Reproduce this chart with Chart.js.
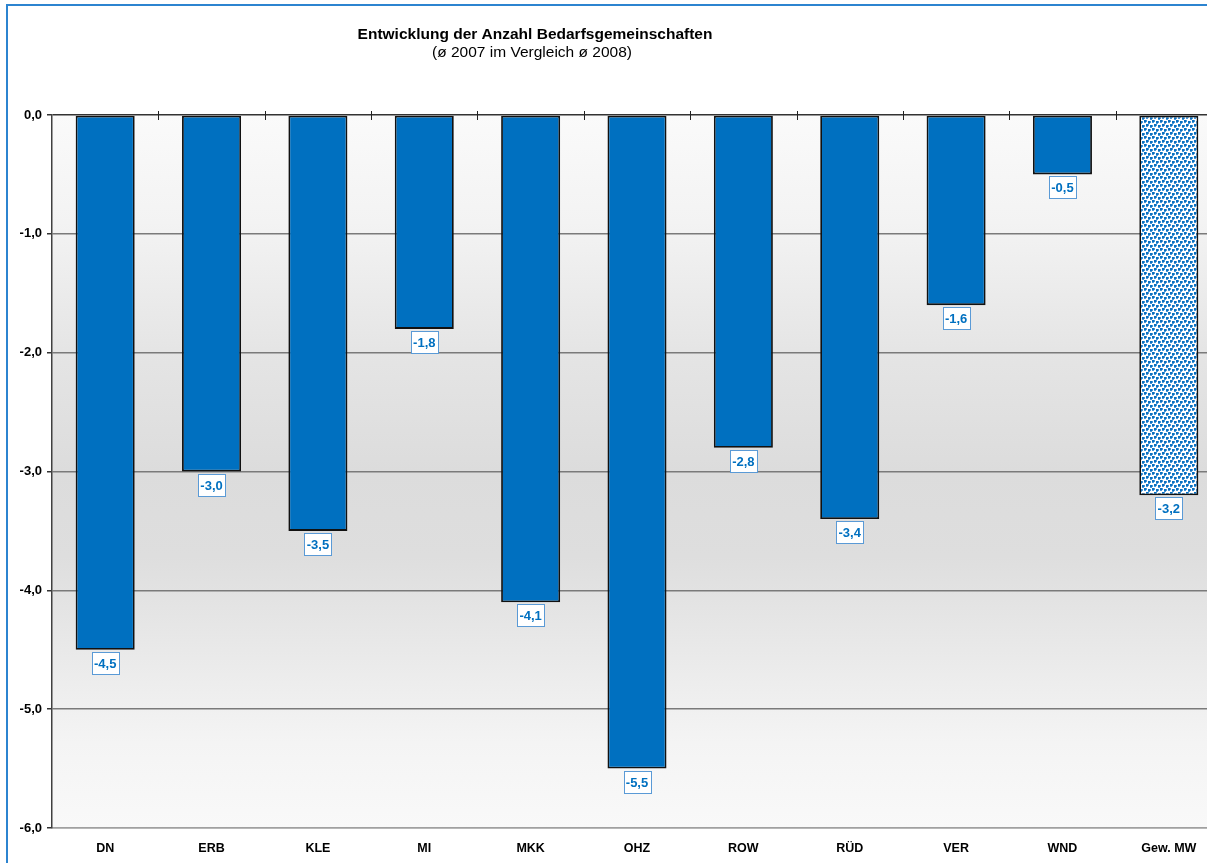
<!DOCTYPE html>
<html lang="de">
<head>
<meta charset="utf-8">
<title>Entwicklung der Anzahl Bedarfsgemeinschaften</title>
<script src="https://cdn.jsdelivr.net/npm/chart.js@4/dist/chart.umd.min.js"></script>
<style>
  html, body { margin: 0; padding: 0; background: #ffffff; overflow: hidden; }
  #wrap { position: relative; width: 1240px; height: 880px; }
  canvas { display: block; }
</style>
</head>
<body>
<div id="wrap"><canvas id="chart" width="1240" height="880"></canvas></div>
<script>
// Kreise / Regionen und Veränderung in Prozent (ø 2007 zu ø 2008)
const categories = ['DN', 'ERB', 'KLE', 'MI', 'MKK', 'OHZ', 'ROW', 'RÜD', 'VER', 'WND', 'Gew. MW'];
const changeValues = [-4.5, -3.0, -3.5, -1.8, -4.1, -5.5, -2.8, -3.4, -1.6, -0.5, -3.2];
const yTickValues = [0, -1, -2, -3, -4, -5, -6];

const titleText = 'Entwicklung der Anzahl Bedarfsgemeinschaften';
const subtitleText = '(ø 2007 im Vergleich ø 2008)';

const FONT = '"Liberation Sans", Arial, Helvetica, sans-serif';
const BAR_BLUE = '#0070c0';

// Punktraster für den gewichteten Mittelwert
function makeDotPattern(ctx) {
  const n = 8;
  const t = document.createElement('canvas');
  t.width = n; t.height = n;
  const c = t.getContext('2d');
  c.fillStyle = '#ffffff';
  c.fillRect(0, 0, n, n);
  const dots = [[0, 0], [4, 1], [2, 4], [6, 5]];
  c.fillStyle = '#4a98d8';
  dots.forEach(([x, y]) => {
    c.fillRect((x + 2) % n, y, 1, 2);
    c.fillRect(x, (y + 2) % n, 2, 1);
  });
  c.fillStyle = '#0a70c0';
  dots.forEach(([x, y]) => c.fillRect(x, y, 2, 2));
  return ctx.createPattern(t, 'repeat');
}

const canvas = document.getElementById('chart');
const ctx0 = canvas.getContext('2d');
const dotPattern = makeDotPattern(ctx0);
const barColors = categories.map((c, i) => i === categories.length - 1 ? dotPattern : BAR_BLUE);

const fmt = v => Number(v).toFixed(1).replace('.', ',');

const framePlugin = {
  id: 'frame',
  beforeDraw(chart) {
    const { ctx, chartArea: a } = chart;
    ctx.save();
    ctx.fillStyle = '#ffffff';
    ctx.fillRect(0, 0, chart.width, chart.height);
    // Verlauf der Zeichenfläche
    const g = ctx.createLinearGradient(0, a.top, 0, a.bottom);
    g.addColorStop(0.00, '#fafafa');
    g.addColorStop(0.15, '#f3f3f3');
    g.addColorStop(0.33, '#e5e5e5');
    g.addColorStop(0.50, '#dcdcdc');
    g.addColorStop(0.62, '#dedede');
    g.addColorStop(0.75, '#e9e9e9');
    g.addColorStop(0.88, '#f4f4f4');
    g.addColorStop(1.00, '#f9f9f9');
    ctx.fillStyle = g;
    ctx.fillRect(a.left, a.top, a.right - a.left, a.bottom - a.top);
    // Rahmen um das Diagramm
    ctx.strokeStyle = '#2c84d0';
    ctx.lineWidth = 2;
    ctx.strokeRect(7, 5, chart.width + 40, chart.height + 40);
    // Titel
    ctx.fillStyle = '#000000';
    ctx.textAlign = 'center';
    ctx.textBaseline = 'middle';
    ctx.font = 'bold 15.5px ' + FONT;
    ctx.fillText(titleText, 535, 35);
    ctx.font = '15.5px ' + FONT;
    ctx.fillText(subtitleText, 532, 53);
    ctx.restore();
  },
  afterDatasetsDraw(chart) {
    const { ctx } = chart;
    const xs = chart.scales.x;
    ctx.save();
    // Teilstriche der Kategorieachse an der Nulllinie
    const y0 = chart.scales.y.getPixelForValue(0);
    ctx.strokeStyle = '#222222';
    ctx.lineWidth = 1;
    for (let i = 1; i < categories.length; i++) {
      const x = Math.round((xs.getPixelForValue(i - 1) + xs.getPixelForValue(i)) / 2) + 0.5;
      ctx.beginPath();
      ctx.moveTo(x, y0 - 4);
      ctx.lineTo(x, y0 + 5);
      ctx.stroke();
    }
    // Datenbeschriftungen unter den Balken
    const meta = chart.getDatasetMeta(0);
    ctx.font = 'bold 13px ' + FONT;
    ctx.textAlign = 'center';
    ctx.textBaseline = 'middle';
    meta.data.forEach((bar, i) => {
      const label = fmt(changeValues[i]);
      const w = Math.ceil(ctx.measureText(label).width) + 4;
      const h = 22;
      const left = Math.round(bar.x - w / 2) + 0.5;
      const top = Math.round(bar.y + 2) + 0.5;
      ctx.fillStyle = '#ffffff';
      ctx.fillRect(left, top, w, h);
      ctx.strokeStyle = '#5a9ad6';
      ctx.lineWidth = 1;
      ctx.strokeRect(left, top, w, h);
      ctx.fillStyle = BAR_BLUE;
      ctx.fillText(label, bar.x, top + h / 2 + 0.5);
    });
    ctx.restore();
  }
};

new Chart(canvas, {
  type: 'bar',
  data: {
    labels: categories,
    datasets: [{
      data: changeValues,
      backgroundColor: barColors,
      borderColor: '#111111',
      borderWidth: 1.8,
      borderSkipped: false,
      categoryPercentage: 1.0,
      barPercentage: 0.555
    }]
  },
  options: {
    responsive: false,
    animation: false,
    devicePixelRatio: 1,
    layout: { padding: { left: 0, top: 115, right: 18, bottom: 0 } },
    plugins: {
      legend: { display: false },
      title: { display: false },
      tooltip: { enabled: false }
    },
    scales: {
      x: {
        position: 'bottom',
        grid: { display: false, drawTicks: false },
        border: { display: true, color: '#a0a0a0', width: 1.5 },
        ticks: {
          padding: 13,
          color: '#000000',
          font: { family: FONT, size: 12.5, weight: 'bold' },
          maxRotation: 0,
          autoSkip: false
        },
        afterFit(scale) { scale.height = 52; }
      },
      y: {
        min: -6,
        max: 0,
        afterBuildTicks(scale) { scale.ticks = yTickValues.map(v => ({ value: v })); },
        grid: {
          color: c => c.tick && c.tick.value === 0 ? '#333333' : (c.tick && c.tick.value === -6 ? '#a0a0a0' : '#7a7a7a'),
          lineWidth: 1.5,
          drawTicks: true,
          tickLength: 5,
          tickColor: '#333333'
        },
        border: { display: true, color: '#404040', width: 1.5 },
        ticks: {
          padding: 5,
          color: '#000000',
          font: { family: FONT, size: 13, weight: 'bold' },
          callback: v => fmt(v)
        },
        afterFit(scale) { scale.width = 52; }
      }
    }
  },
  plugins: [framePlugin]
});
</script>
</body>
</html>
